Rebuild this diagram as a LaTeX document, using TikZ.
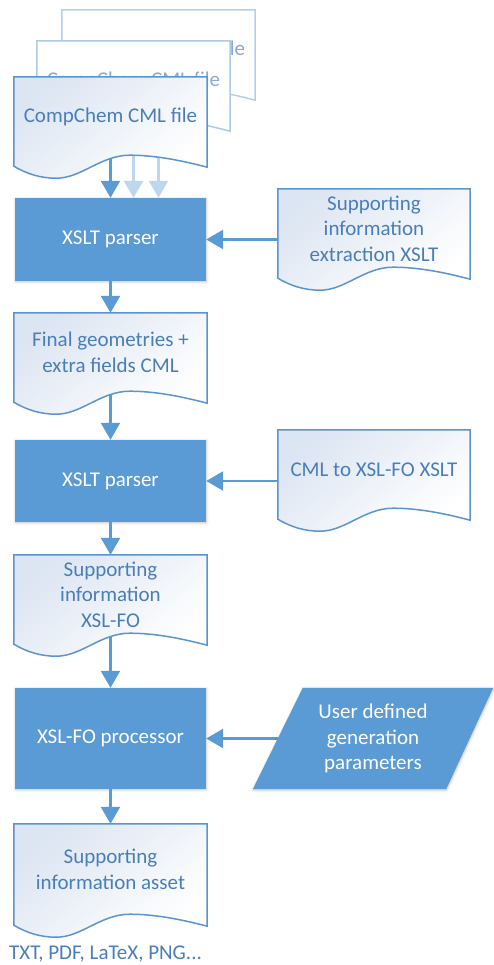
\documentclass[tikz,border=0pt]{standalone}
\usepackage{fontspec}
\setmainfont{Carlito}
\usetikzlibrary{arrows.meta,calc,shadows.blur}
\definecolor{boxblue}{HTML}{5B9BD5}
\definecolor{docline}{HTML}{5B95D0}
\definecolor{doctext}{HTML}{4A7EBB}
\definecolor{docfill}{HTML}{DCE5F2}
\definecolor{ghost}{HTML}{BDD7EE}
\newcommand\docshape[2]{%
\draw[#2] (#1.north west) -- (#1.north east) -- ($(#1.south east)+(0,14)$)
 .. controls ($(#1.south west)!0.9!(#1.south east)+(0,9)$) and ($(#1.south west)!0.75!(#1.south east)+(0,2)$) .. ($(#1.south west)!0.6!(#1.south east)+(0,2)$)
 .. controls ($(#1.south west)!0.45!(#1.south east)+(0,2)$) and ($(#1.south west)!0.35!(#1.south east)+(0,25)$) .. ($(#1.south west)!0.22!(#1.south east)+(0,25)$)
 .. controls ($(#1.south west)!0.14!(#1.south east)+(0,25)$) and ($(#1.south west)!0.07!(#1.south east)+(0,21)$) .. ($(#1.south west)+(0,13)$) -- cycle;}
\begin{document}
\begin{tikzpicture}[x=1pt,y=-1pt,
  every node/.style={font=\fontsize{21}{25.5}\selectfont, align=center, inner sep=0pt},
  docgeo/.style={minimum width=193pt, minimum height=76pt},
  doclabel/.style={text=doctext, yshift=-1.5pt},
  docstyle/.style={draw=docline, line width=1.5pt, shading=axis, top color=docfill, bottom color=white, shading angle=40},
  ghostdoc/.style={draw=docline!45, line width=1.5pt, fill=white},
  boxstyle/.style={fill=boxblue, text=white, minimum width=191pt,
    blur shadow={shadow xshift=0.5pt, shadow yshift=-0.8pt, shadow blur radius=2.5pt, shadow opacity=25}},
  flow/.style={draw=boxblue, line width=2.5pt, -{Triangle[width=19pt,length=17pt]}},
  ghostflow/.style={draw=ghost, line width=2.5pt, -{Triangle[width=19pt,length=17pt]}}
]
\useasboundingbox (0,0) rectangle (493,965);
% process boxes
\node[boxstyle, minimum height=83pt] (box1) at (110.5,239.5) {XSLT parser};
\node[boxstyle, minimum height=82pt] (box2) at (110.5,481) {XSLT parser};
\node[boxstyle, minimum height=101pt] (box3) at (110.5,738.5) {XSL-FO processor};
% document geometry
\node[docgeo] (docb) at (158.5,48) {};
\node[docgeo] (docm) at (133.5,79) {};
\node[docgeo] (doc1) at (110.5,115) {};
\node[docgeo, minimum width=192pt] (rdoc1) at (374,227) {};
\node[docgeo] (doc2) at (110.5,351) {};
\node[docgeo, minimum width=192pt] (rdoc2) at (374,468) {};
\node[docgeo] (doc3) at (110.5,593) {};
\node[docgeo, minimum height=88pt] (doc4) at (110.5,868) {};
\node[minimum width=240pt, minimum height=101pt] (param) at (373,738.5) {};
\coordinate (paramin) at ($(param.west)+(25,0)$);
% connectors
\draw[ghostflow] (docb.south) -- (docb.south |- box1.north);
\draw[ghostflow] (docm.south) -- (docm.south |- box1.north);
\draw[flow] (doc1.south) -- (box1.north);
\draw[flow] (box1.east -| rdoc1.west) -- (box1.east);
\draw[flow] (box1.south) -- (doc2.north);
\draw[flow] (doc2.south) -- (box2.north);
\draw[flow] (box2.east -| rdoc2.west) -- (box2.east);
\draw[flow] (box2.south) -- (doc3.north);
\draw[flow] (doc3.south) -- (box3.north);
\draw[flow] (paramin) -- (box3.east);
\draw[flow] (box3.south) -- (doc4.north);
% stacked input documents
\docshape{docb}{ghostdoc}
\node[doclabel, text=doctext!65] (docbt) at (docb) {CompChem CML file};
\docshape{docm}{ghostdoc, draw=docline!50}
\node[doclabel, text=doctext!65] (docmt) at (docm) {CompChem CML file};
\docshape{doc1}{docstyle}
\node[doclabel] (doc1t) at (doc1) {CompChem CML file};
% other documents
\docshape{rdoc1}{docstyle}
\node[doclabel] (rdoc1t) at (rdoc1) {Supporting\\information\\extraction XSLT};
\docshape{doc2}{docstyle}
\node[doclabel] (doc2t) at (doc2) {Final geometries +\\extra fields CML};
\docshape{rdoc2}{docstyle}
\node[doclabel] (rdoc2t) at (rdoc2) {CML to XSL-FO XSLT};
\docshape{doc3}{docstyle}
\node[doclabel] (doc3t) at (doc3) {Supporting\\information\\XSL-FO};
\docshape{doc4}{docstyle}
\node[doclabel] (doc4t) at (doc4) {Supporting\\information asset};
% input parameters
\draw[fill=boxblue, draw=none, blur shadow={shadow xshift=0.5pt, shadow yshift=-0.8pt, shadow blur radius=2.5pt, shadow opacity=25}]
  ($(param.north west)+(50,0)$) -- (param.north east) -- ($(param.south east)+(-47,0)$) -- (param.south west) -- cycle;
\node[text=white] (paramt) at (param) {User defined\\generation\\parameters};
% output formats
\node[text=doctext, anchor=west] (fmt) at (9,954) {TXT, PDF, LaTeX, PNG...};
\end{tikzpicture}
\end{document}
